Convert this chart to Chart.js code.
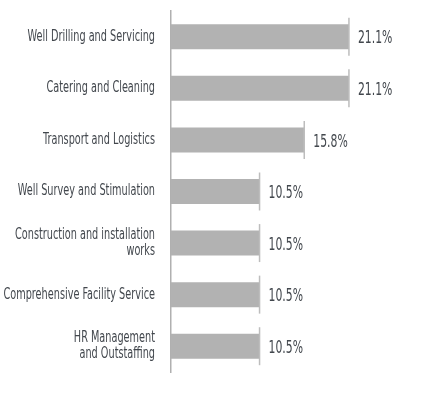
<!DOCTYPE html>
<html>
<head>
<meta charset="utf-8">
<script src="https://cdn.jsdelivr.net/npm/chart.js"></script>
<style>
  html, body { margin: 0; padding: 0; background: #fff; }
  #wrap { width: 436px; height: 393px; }
</style>
</head>
<body>
<div id="wrap"><canvas id="servicesChart"></canvas></div>
<script>
// Categories and shares (%)
const categories = [
    'Well Drilling and Servicing',
    'Catering and Cleaning',
    'Transport and Logistics',
    'Well Survey and Stimulation',
    ['Construction and installation', 'works'],
    'Comprehensive Facility Service',
    ['HR Management', 'and Outstaffing']
];
const shares = [21.1, 21.1, 15.8, 10.5, 10.5, 10.5, 10.5];

const FONT = '"Liberation Sans Narrow", "DejaVu Sans Condensed", sans-serif';
const TEXT = '#42474d';

// condensed-looking text: draw with a horizontal squeeze
function squeezedText(ctx, str, x, y, size, sx, align) {
    ctx.save();
    ctx.font = size + 'px ' + FONT;
    ctx.textAlign = align;
    ctx.textBaseline = 'middle';
    ctx.translate(x, y);
    ctx.scale(sx, 1);
    ctx.fillText(str, 0, 0);
    ctx.restore();
}

// category labels, end-of-bar tick line and value label
const barEnds = {
    id: 'barEnds',
    afterDatasetsDraw(chart) {
        const ctx = chart.ctx;
        const yScale = chart.scales.y;
        const meta = chart.getDatasetMeta(0);
        ctx.save();
        ctx.fillStyle = TEXT;
        categories.forEach((label, i) => {
            const cy = yScale.getPixelForTick(i);
            const lines = Array.isArray(label) ? label : [label];
            const lh = 15.5;
            lines.forEach((ln, k) => {
                const ly = cy + (k - (lines.length - 1) / 2) * lh;
                squeezedText(ctx, ln, yScale.right - 16, ly, 15, 0.72, 'right');
            });
        });
        meta.data.forEach((bar, i) => {
            ctx.strokeStyle = '#bdbdbd';
            ctx.lineWidth = 1.5;
            ctx.beginPath();
            ctx.moveTo(bar.x, bar.y - 19);
            ctx.lineTo(bar.x, bar.y + 19);
            ctx.stroke();
            ctx.fillStyle = TEXT;
            squeezedText(ctx, shares[i].toFixed(1) + '%', bar.x + 9, bar.y + 2, 18, 0.67, 'left');
        });
        ctx.restore();
    }
};

new Chart(document.getElementById('servicesChart'), {
    type: 'bar',
    data: {
        labels: categories,
        datasets: [{
            data: shares,
            backgroundColor: '#b2b2b2',
            barPercentage: 0.485,
            categoryPercentage: 1
        }]
    },
    options: {
        indexAxis: 'y',
        responsive: true,
        maintainAspectRatio: false,
        animation: false,
        layout: { padding: { top: 11, bottom: 21, left: 0, right: 12 } },
        plugins: {
            legend: { display: false },
            tooltip: { enabled: false }
        },
        scales: {
            x: {
                display: false,
                min: 0,
                max: 30
            },
            y: {
                afterFit: scale => {
                    scale.width = 171;
                    scale.paddingTop = 0;
                    scale.paddingBottom = 0;
                },
                grid: { display: false, drawTicks: false },
                border: { display: true, color: '#b0b0b0', width: 1.5 },
                ticks: { display: false }
            }
        }
    },
    plugins: [barEnds]
});
</script>
</body>
</html>
